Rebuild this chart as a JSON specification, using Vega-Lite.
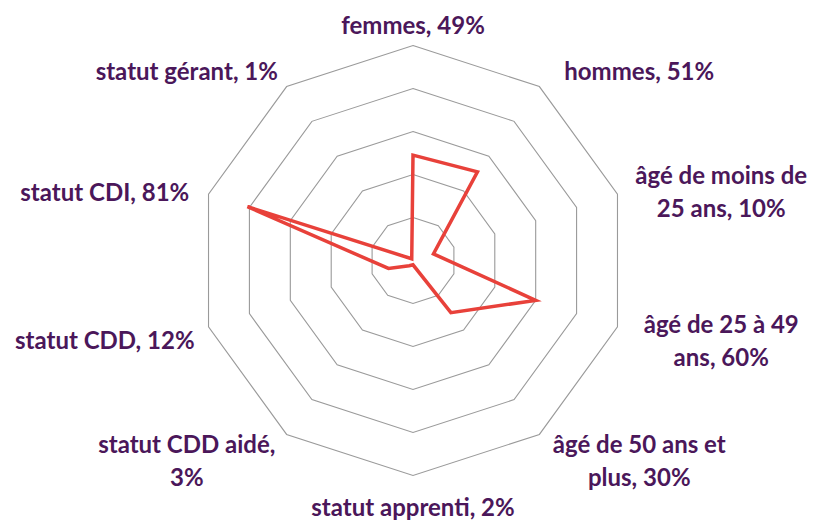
{
  "$schema": "https://vega.github.io/schema/vega-lite/v6.json",
  "width": 822,
  "height": 522,
  "autosize": {"type": "none"},
  "padding": 0,
  "background": "white",
  "config": {"view": {"stroke": null}},
  "datasets": {
    "items": [
      {"idx": 0, "categorie": "femmes", "valeur": 49, "label": "femmes, 49%"},
      {"idx": 1, "categorie": "hommes", "valeur": 51, "label": "hommes, 51%"},
      {"idx": 2, "categorie": "âgé de moins de 25 ans", "valeur": 10, "label": "âgé de moins de\n25 ans, 10%"},
      {"idx": 3, "categorie": "âgé de 25 à 49 ans", "valeur": 60, "label": "âgé de 25 à 49\nans, 60%"},
      {"idx": 4, "categorie": "âgé de 50 ans et plus", "valeur": 30, "label": "âgé de 50 ans et\nplus, 30%"},
      {"idx": 5, "categorie": "statut apprenti", "valeur": 2, "label": "statut apprenti, 2%"},
      {"idx": 6, "categorie": "statut CDD aidé", "valeur": 3, "label": "statut CDD aidé,\n3%"},
      {"idx": 7, "categorie": "statut CDD", "valeur": 12, "label": "statut CDD, 12%"},
      {"idx": 8, "categorie": "statut CDI", "valeur": 81, "label": "statut CDI, 81%"},
      {"idx": 9, "categorie": "statut gérant", "valeur": 1, "label": "statut gérant, 1%"}
    ],
    "grid": [
      {"level": 20, "k": [0, 1, 2, 3, 4, 5, 6, 7, 8, 9]},
      {"level": 40, "k": [0, 1, 2, 3, 4, 5, 6, 7, 8, 9]},
      {"level": 60, "k": [0, 1, 2, 3, 4, 5, 6, 7, 8, 9]},
      {"level": 80, "k": [0, 1, 2, 3, 4, 5, 6, 7, 8, 9]},
      {"level": 100, "k": [0, 1, 2, 3, 4, 5, 6, 7, 8, 9]}
    ]
  },
  "layer": [
    {
      "data": {"name": "grid"},
      "transform": [
        {"flatten": ["k"]},
        {"calculate": "datum.k * PI / 5", "as": "a"},
        {"calculate": "datum.level * sin(datum.a)", "as": "x"},
        {"calculate": "datum.level * cos(datum.a)", "as": "y"}
      ],
      "mark": {"type": "line", "interpolate": "linear-closed", "stroke": "#9a9a9a", "strokeWidth": 1.1},
      "encoding": {
        "x": {"field": "x", "type": "quantitative", "scale": {"domain": [-192.09, 190.23], "nice": false, "zero": false}, "axis": null},
        "y": {"field": "y", "type": "quantitative", "scale": {"domain": [-121.63, 121.16], "nice": false, "zero": false}, "axis": null},
        "detail": {"field": "level", "type": "nominal"},
        "order": {"field": "k", "type": "quantitative"}
      }
    },
    {
      "data": {"name": "items"},
      "transform": [
        {"calculate": "datum.idx * PI / 5", "as": "a"},
        {"calculate": "datum.valeur * sin(datum.a)", "as": "x"},
        {"calculate": "datum.valeur * cos(datum.a)", "as": "y"}
      ],
      "mark": {"type": "line", "interpolate": "linear-closed", "stroke": "#E8413A", "strokeWidth": 3.5, "strokeJoin": "miter"},
      "encoding": {
        "x": {"field": "x", "type": "quantitative"},
        "y": {"field": "y", "type": "quantitative"},
        "order": {"field": "idx", "type": "quantitative"}
      }
    },
    {
      "data": {"name": "items"},
      "transform": [
        {"calculate": "datum.idx * PI / 5", "as": "a"},
        {"calculate": "105 * sin(datum.a) + (sin(datum.a) > 0.01 ? 43.5 : (sin(datum.a) < -0.01 ? -43.5 : 0))", "as": "x"},
        {"calculate": "112 * cos(datum.a) - 3.5 + (indexof(datum.label, '\\n') >= 0 ? 7.7 : 0)", "as": "y"}
      ],
      "mark": {"type": "text", "font": "Lato", "fontWeight": "bold", "fontSize": 24, "color": "#4B175A", "align": "center", "baseline": "middle", "lineBreak": "\n", "lineHeight": 33},
      "encoding": {
        "x": {"field": "x", "type": "quantitative"},
        "y": {"field": "y", "type": "quantitative"},
        "text": {"field": "label", "type": "nominal"}
      }
    }
  ]
}
